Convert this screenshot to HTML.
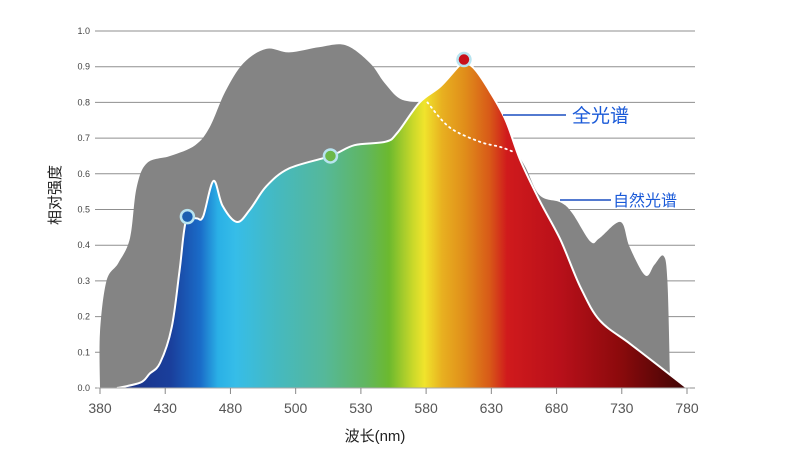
<!DOCTYPE html>
<html><head><meta charset="utf-8"><style>
body{margin:0;background:#fff}
svg{display:block;font-family:"Liberation Sans","Noto Sans CJK SC",sans-serif}
</style></head><body>
<svg id="chart" width="790" height="459" viewBox="0 0 790 459">
<defs>
<linearGradient id="spec" gradientUnits="userSpaceOnUse" x1="100" y1="0" x2="690" y2="0">
<stop offset="0" stop-color="#1a2a7a"/>
<stop offset="0.12" stop-color="#1a3f9c"/>
<stop offset="0.17" stop-color="#1a6cc8"/>
<stop offset="0.2" stop-color="#2ab0e6"/>
<stop offset="0.23" stop-color="#36bde8"/>
<stop offset="0.3" stop-color="#45b9c0"/>
<stop offset="0.38" stop-color="#55b89a"/>
<stop offset="0.45" stop-color="#60b660"/>
<stop offset="0.49" stop-color="#6cb92e"/>
<stop offset="0.53" stop-color="#c9d82a"/>
<stop offset="0.55" stop-color="#f0e42c"/>
<stop offset="0.58" stop-color="#e8b020"/>
<stop offset="0.62" stop-color="#e08c1a"/>
<stop offset="0.66" stop-color="#d85a18"/>
<stop offset="0.69" stop-color="#d01a1c"/>
<stop offset="0.78" stop-color="#b8101a"/>
<stop offset="0.88" stop-color="#8c0a0c"/>
<stop offset="1" stop-color="#3a0404"/>
</linearGradient>
</defs>
<g id="grid"></g>
<g id="areas"></g>
<g id="axes"></g>
<text transform="translate(60,195) rotate(-90)" text-anchor="middle" font-size="15" fill="#222">相对强度</text>
<text x="375" y="441" text-anchor="middle" font-size="15" fill="#222">波长(nm)</text>
<g>
<line x1="503" y1="115" x2="566" y2="115" stroke="#1a4fc0" stroke-width="1.5"/>
<text x="572" y="122" font-size="19" fill="#1a5ad8">全光谱</text>
</g>
<g>
<line x1="560" y1="200" x2="611" y2="200" stroke="#1a4fc0" stroke-width="1.5"/>
<text x="613" y="206" font-size="16" fill="#1a5ad8">自然光谱</text>
</g>
</svg>
<script>
const xTicks = [380,430,480,500,530,580,630,680,730,780];
const yTicks = [0,0.1,0.2,0.3,0.4,0.5,0.6,0.7,0.8,0.9,1.0];
const naturalWl = [380,380,385,394,403,408,416,434,453,464,476,484,491,498,511,523,537,548,560,575,581,598,621,637,648,656,667,683,692,706,713,729,736,748,755,762,765,767,767];
const naturalVal = [0,0.157,0.30,0.35,0.42,0.56,0.63,0.65,0.68,0.73,0.83,0.91,0.95,0.94,0.955,0.96,0.91,0.855,0.81,0.80,0.80,0.73,0.69,0.675,0.66,0.62,0.54,0.52,0.49,0.41,0.42,0.465,0.395,0.315,0.345,0.37,0.30,0.03,0];
const fullWl = [393,411,418,426,435,441,446,454,459,467,474,482,486,491,498,516,527,549,558,575,591,606,611,618,629,641,652,667,683,698,713,736,759,780];
const fullVal = [0,0.015,0.04,0.07,0.17,0.33,0.47,0.475,0.48,0.58,0.51,0.465,0.50,0.565,0.615,0.65,0.68,0.69,0.715,0.80,0.845,0.905,0.91,0.89,0.83,0.75,0.64,0.525,0.415,0.285,0.19,0.125,0.06,0];
const markerWl = [447,516,609];
const markerVal = [0.48,0.65,0.92];
const markerColors = ['#1a5fb0','#6cb84a','#c8101a'];
const NS='http://www.w3.org/2000/svg';
const X0=100,X1=687,Y0=388,Y1=31;
function xIdx(i){return X0+(X1-X0)*i/(xTicks.length-1);}
function x(w){
  for(let i=0;i<xTicks.length-1;i++){
    if(w<=xTicks[i+1]||i===xTicks.length-2){
      const f=(w-xTicks[i])/(xTicks[i+1]-xTicks[i]);
      return xIdx(i+f);
    }
  }
}
function y(v){return Y0-(Y0-Y1)*v;}
function smooth(pts){
  let s='M'+pts[0][0].toFixed(1)+','+pts[0][1].toFixed(1);
  for(let i=0;i<pts.length-1;i++){
    const p0=pts[Math.max(0,i-1)],p1=pts[i],p2=pts[i+1],p3=pts[Math.min(pts.length-1,i+2)];
    const k=1/6;
    const c1=[p1[0]+(p2[0]-p0[0])*k,p1[1]+(p2[1]-p0[1])*k];
    const c2=[p2[0]-(p3[0]-p1[0])*k,p2[1]-(p3[1]-p1[1])*k];
    s+='C'+c1[0].toFixed(1)+','+c1[1].toFixed(1)+' '+c2[0].toFixed(1)+','+c2[1].toFixed(1)+' '+p2[0].toFixed(1)+','+p2[1].toFixed(1);
  }
  return s;
}
function mk(tag,attrs,parent){const e=document.createElementNS(NS,tag);for(const k in attrs)e.setAttribute(k,attrs[k]);parent.appendChild(e);return e;}
const grid=document.getElementById('grid'),areas=document.getElementById('areas'),axes=document.getElementById('axes');
yTicks.forEach(v=>{
  const l=mk('line',{x1:95,x2:695,y1:y(v),y2:y(v),stroke:'#8f8f8f','stroke-width':1},grid);
  
  
  const t=mk('text',{x:90,y:y(v)+3,'text-anchor':'end','font-size':9,fill:'#444'},axes);
  t.textContent=v.toFixed(1);
  
  
});
const natPts=naturalWl.map((w,i)=>[x(w),y(naturalVal[i])]);
const nat=mk('path',{d:smooth(natPts)+'Z',fill:'#848484'},areas);


const fullPts=fullWl.map((w,i)=>[x(w),y(fullVal[i])]);
const f=smooth(fullPts);
const full=mk('path',{d:f+'Z',fill:'url(#spec)'},areas);


const outline=mk('path',{d:f,fill:'none',stroke:'#fff','stroke-width':2,'stroke-linejoin':'round'},areas);


const dotPts=[];
naturalWl.forEach((w,i)=>{if(w>=578&&w<=650)dotPts.push([x(w),y(naturalVal[i])]);});
const dot=mk('path',{d:smooth(dotPts),fill:'none',stroke:'#fff','stroke-width':1.8,'stroke-dasharray':'1.5 4','stroke-linecap':'round'},areas);


markerWl.forEach((w,i)=>{
  const c=mk('circle',{cx:x(w),cy:y(markerVal[i]),r:6.5,fill:markerColors[i],stroke:'#b8e4f0','stroke-width':2.5},areas);
  
  
});
mk('line',{x1:97,x2:690,y1:Y0,y2:Y0,stroke:'#aaa','stroke-width':1},axes);
xTicks.forEach((w,i)=>{
  mk('line',{x1:xIdx(i),x2:xIdx(i),y1:Y0,y2:Y0+6,stroke:'#888'},axes);
  const t=mk('text',{x:xIdx(i),y:413,'text-anchor':'middle','font-size':14,fill:'#555'},axes);
  t.textContent=w;
  
  
});
</script>
</body></html>
